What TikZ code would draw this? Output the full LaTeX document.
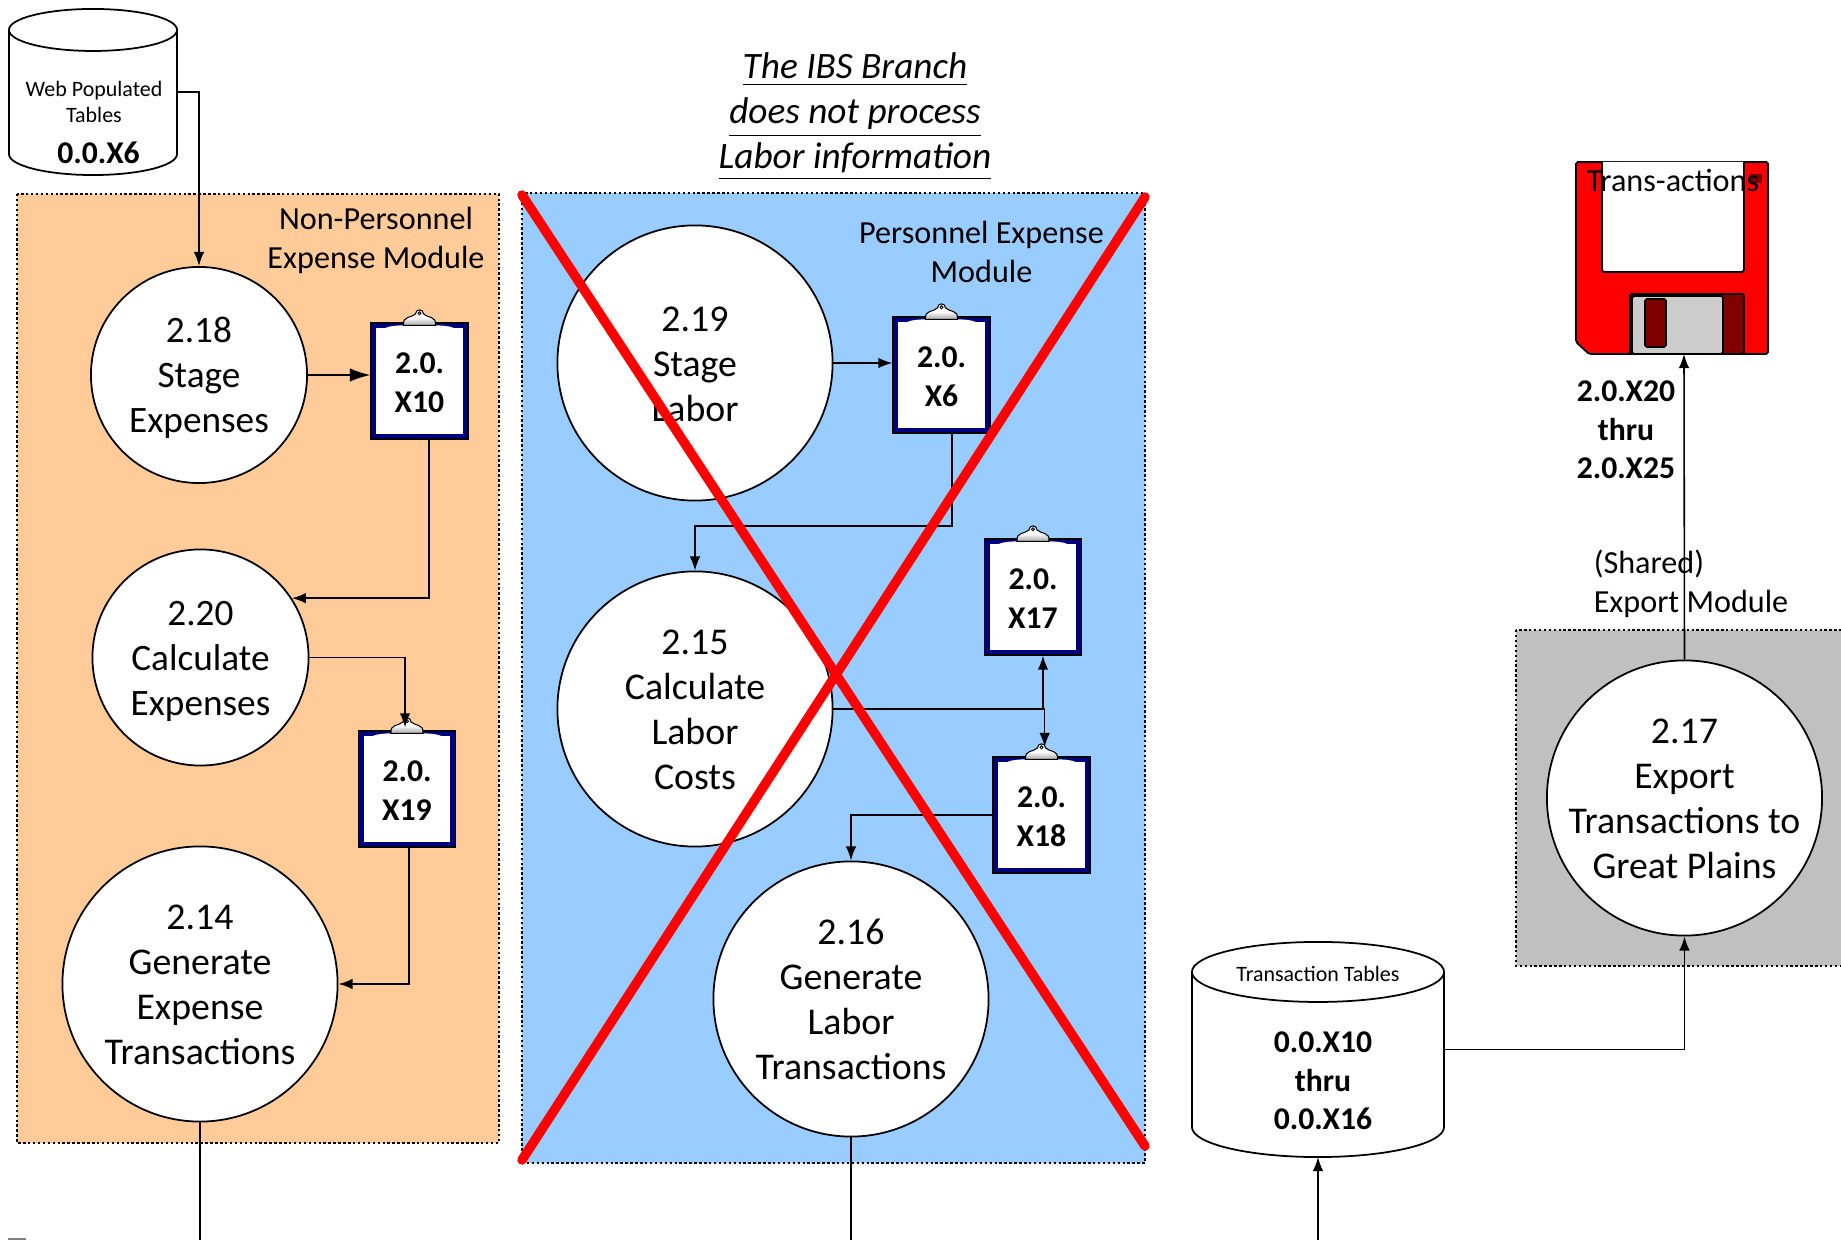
\documentclass[tikz,border=0pt]{standalone}
\usepackage{amsmath}
\usepackage{fontspec}
\setmainfont{Carlito}
\usetikzlibrary{arrows.meta}
\definecolor{orangebox}{RGB}{255,204,153}
\definecolor{bluebox}{RGB}{153,204,255}
\definecolor{graybox}{RGB}{192,192,192}
\definecolor{clipnavy}{RGB}{0,0,128}
\definecolor{diskdark}{RGB}{128,0,0}
\definecolor{diskgray}{RGB}{204,204,204}
\tikzset{
  module/.style={draw=black,line width=0.5pt,dash pattern=on 0.7pt off 0.7pt},
  process/.style={circle,draw=black,fill=white,line width=0.5pt,minimum size=2.75cm,inner sep=-8pt,align=center,font=\fontsize{10.75}{12.8}\selectfont},
  smallprocess/.style={process,minimum size=2.16cm,font=\fontsize{10.6}{12.8}\selectfont},
  report/.style={rectangle,draw=black,fill=clipnavy,line width=0.35pt,minimum width=0.97cm,minimum height=1.16cm,inner sep=0pt,align=center,font=\fontsize{9}{11}\selectfont\bfseries,
    path picture={\fill [white] ([xshift=0.053cm,yshift=0.053cm]path picture bounding box.south west) rectangle ([xshift=-0.053cm,yshift=-0.053cm]path picture bounding box.north east);}},
  store/.style={rectangle,inner sep=0pt,outer sep=0pt},
  storeline/.style={draw=black,fill=white,line width=0.5pt},
  flow/.style={draw=black,line width=0.45pt,-{Latex[length=4pt,width=3pt]}},
  bigflow/.style={draw=black,line width=0.45pt,-{Latex[length=5.8pt,width=3.8pt]}},
  plain/.style={draw=black,line width=0.45pt},
  label/.style={align=center,inner sep=0pt,font=\fontsize{9.15}{11}\selectfont},
  smalllabel/.style={label,font=\fontsize{6.25}{7.4}\selectfont},
  titlelabel/.style={label,font=\fontsize{10.6}{12.8}\selectfont},
  idlabel/.style={align=center,inner sep=0pt,font=\fontsize{9}{11}\selectfont\bfseries},
  cross/.style={draw=red,line width=2.7pt,line cap=round},
  disk/.style={draw=black,line width=0.5pt,rounded corners=0.5pt}
}
% taller first line, pushes a node text down a little
\newcommand{\lift}[1]{\rule{0pt}{#1pt}}
% clip on top of a report
\newcommand{\clipat}[1]{
\fill [white] ([xshift=-0.34cm,yshift=-0.055cm]#1.north) .. controls ([xshift=-0.3cm,yshift=-0.035cm]#1.north) and ([xshift=-0.2cm,yshift=-0.03cm]#1.north) .. ([xshift=-0.16cm,yshift=-0.03cm]#1.north) -- ([xshift=0.16cm,yshift=-0.03cm]#1.north) .. controls ([xshift=0.2cm,yshift=-0.03cm]#1.north) and ([xshift=0.3cm,yshift=-0.035cm]#1.north) .. ([xshift=0.34cm,yshift=-0.055cm]#1.north) -- cycle;
\draw [black,top color=white,bottom color=gray!70,middle color=white,line width=0.3pt] ([xshift=-0.16cm,yshift=-0.03cm]#1.north) .. controls ([xshift=-0.17cm,yshift=0.07cm]#1.north) and ([xshift=-0.08cm,yshift=0.04cm]#1.north) .. ([xshift=-0.04cm,yshift=0.085cm]#1.north) arc (180:0:0.04cm) .. controls ([xshift=0.08cm,yshift=0.04cm]#1.north) and ([xshift=0.17cm,yshift=0.07cm]#1.north) .. ([xshift=0.16cm,yshift=-0.03cm]#1.north) -- cycle;
\draw [black,fill=white,line width=0.25pt] ([yshift=0.09cm]#1.north) circle (0.015cm);
}
% store body: node name, x radius, y radius
\newcommand{\storeat}[3]{
\draw [storeline] ([yshift=-#3]#1.north west) arc (180:0:#2 and #3) -- ([yshift=#3]#1.south east) arc (360:180:#2 and #3) -- cycle;
\draw [storeline,fill=none] ([yshift=-#3]#1.north west) arc (180:360:#2 and #3);
}
\begin{document}
\begin{tikzpicture}[x=0.01cm,y=0.01cm]
\useasboundingbox (0,0) rectangle (1841,-1240);
\fill [white] (0,0) rectangle (1841,-1240);
% module backgrounds
\draw [module,fill=orangebox] (17,-194) rectangle (499,-1143);
\draw [module,fill=bluebox] (522,-193) rectangle (1145,-1163);
\draw [module,fill=graybox] (1516,-630) rectangle (1845,-966);
% stores
\node [store,minimum width=1.68cm,minimum height=1.66cm] (webtables) at (93,-92) {};
\node [store,minimum width=2.52cm,minimum height=2.15cm] (transtables) at (1318,-1049.5) {};
\storeat{webtables}{0.84cm}{0.21cm}
\storeat{transtables}{1.26cm}{0.3cm}
% processes
\node [smallprocess] (stage exp) at (199,-375) {\lift{9}2.18\\Stage\\Expenses};
\node [smallprocess] (calc exp) at (200.5,-657.5) {\lift{9}2.20\\Calculate\\Expenses};
\node [process] (gen exp) at (200,-984) {\lift{7.6}2.14\\Generate\\Expense\\Transactions};
\node [process] (stage lab) at (695,-363) {\lift{7.6}2.19\\Stage\\Labor};
\node [process] (calc lab) at (695,-709) {\lift{7.6}2.15\\Calculate\\Labor\\Costs};
\node [process] (gen lab) at (851,-999) {\lift{7.6}2.16\\Generate\\Labor\\Transactions};
\node [process] (export) at (1684.5,-798) {\lift{7.6}2.17\\Export\\Transactions to\\Great Plains};
% reports
\node [report] (x10) at (419.5,-381) {\lift{6.8}2.0.\\X10};
\node [report] (x19) at (407,-789) {\lift{6.8}2.0.\\X19};
\node [report] (x6) at (941.5,-375) {\lift{6.8}2.0.\\X6};
\node [report] (x17) at (1033,-597) {\lift{6.8}2.0.\\X17};
\node [report] (x18) at (1041.5,-815) {\lift{6.8}2.0.\\X18};
\clipat{x10}
\clipat{x19}
\clipat{x6}
\clipat{x17}
\clipat{x18}
\fill [gray] (8,-1238.5) rectangle (26,-1240);
% floppy
\draw [disk,fill=red] (1576,-162) -- (1768,-162) -- (1768,-354) -- (1589,-354) -- (1576,-342) -- cycle;
\draw [disk,fill=white] (1602,-162) -- (1602,-272) -- (1744,-272) -- (1744,-162);
\draw [disk,fill=diskdark] (1630,-294) rectangle (1744,-354);
\draw [disk,fill=diskgray] (1632,-296) rectangle (1723,-354);
\draw [disk,fill=diskdark] (1645,-299) rectangle (1666,-347);
\fill [diskdark] (1750,-174) rectangle (1762,-183);
\coordinate (disk) at (1684,-354);
% texts
\node [titlelabel] (title) at (855,-117) {\textit{\underline{The IBS Branch}}\\\textit{\underline{does not process}}\\\textit{\underline{Labor information}}};
\node [label] (nonpers) at (376,-240.5) {Non-Personnel\\Expense Module};
\node [label] (pers) at (981.5,-252) {Personnel Expense\\Module};
\node [label,align=left] (shared) at (1691,-584) {(Shared)\\Export Module};
\node [label] (transact) at (1673,-181) {Trans-actions};
\node [idlabel] (x20) at (1626,-430) {2.0.X20\\thru\\2.0.X25};
\node [smalllabel] (webtext) at (94,-102) {Web Populated\\Tables};
\node [idlabel] (x6store) at (98.5,-153) {0.0.X6};
\node [smalllabel] (transtext) at (1318,-974) {Transaction Tables};
\node [idlabel] (x10store) at (1323,-1081) {0.0.X10\\thru\\0.0.X16};
% free ends at the page bottom
\coordinate (end exp) at (200,-1240);
\coordinate (end lab) at (851,-1240);
\coordinate (end store) at (1318,-1240);
\coordinate (x18 top) at (1044.7,-747);
% connectors
\draw [flow] (webtables.east |- 0,-92) -| (stage exp.north);
\draw [bigflow] (stage exp.east) -- (stage exp.east -| x10.west);
\draw [flow] ([xshift=0.095cm]x10.south) |- (calc exp.33);
\draw [flow] (calc exp.east) -| ([xshift=-0.02cm,yshift=0.03cm]x19.north);
\draw [flow] ([xshift=0.02cm]x19.south) |- (gen exp.east);
\draw [plain] (gen exp.south) -- (end exp);
\draw [flow] (stage lab.east) -- (stage lab.east -| x6.west);
\draw [flow] ([xshift=0.105cm]x6.south) |- (695,-526) -- (calc lab.north);
\draw [flow] (calc lab.east) -| ([xshift=0.1cm]x17.south);
\draw [flow] (calc lab.east) -| (x18 top);
\draw [flow] (x18.west) -| (gen lab.north);
\draw [plain] (gen lab.south) -- (end lab);
\draw [flow] (end store) -- (transtables.south);
\draw [flow] (transtables.east) -| (export.south);
\draw [flow] (export.north) -- (disk);
% red cross over the blue module
\coordinate (xa) at (522,-195);
\coordinate (xb) at (1145,-1146);
\coordinate (xc) at (522,-1160);
\coordinate (xd) at (1145,-197);
\draw [cross] (xa) -- (xb);
\draw [cross] (xc) -- (xd);
\end{tikzpicture}
\end{document}
